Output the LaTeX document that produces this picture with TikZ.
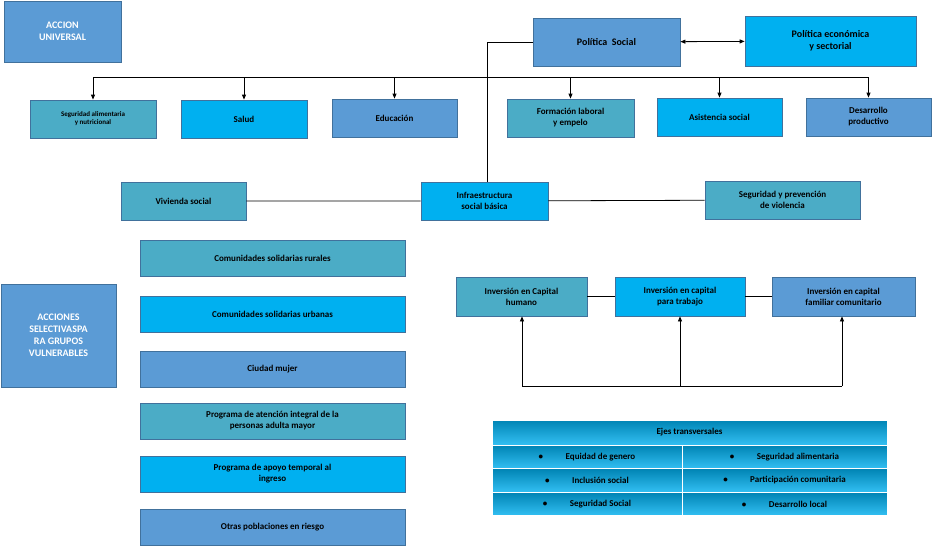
\documentclass[tikz,border=0pt]{standalone}
\usepackage{fontspec}
\setmainfont{Carlito}
\usetikzlibrary{arrows.meta,positioning}
\definecolor{azul}{HTML}{5B9BD5}
\definecolor{turq}{HTML}{4BACC6}
\definecolor{cian}{HTML}{00B0F0}
\definecolor{borde}{HTML}{41719C}
\tikzset{
  caja/.style={draw=borde, line width=0.8pt, font=\bfseries\small, align=center, inner sep=1pt},
  cajaA/.style={caja, fill=azul},
  cajaT/.style={caja, fill=turq},
  cajaC/.style={caja, fill=cian},
  celda/.style={draw=white, line width=0.6pt, top color=cian!75!black, bottom color=cian!80!white, font=\bfseries\small, inner sep=0pt},
  flecha/.style={-{Triangle[length=5pt,width=4pt]}, line width=0.8pt},
  linea/.style={line width=0.8pt}
}
\begin{document}
\begin{tikzpicture}[x=1pt,y=-1pt]
\useasboundingbox (0,0) rectangle (932,547);
% macro-like helper: box from corner coordinates
\newcommand{\caja}[6]{\node[#1, minimum width=#4-#2, minimum height=#5-#3] (#6) at ({(#2+#4)/2},{(#3+#5)/2}) {#6text};}
% acciones
\node[cajaA, text=white, font=\bfseries, minimum width=117, minimum height=61] (accU) at (62.5,31.5) {ACCION\\UNIVERSAL};
\node[cajaA, text=white, font=\bfseries, minimum width=115, minimum height=103] (accS) at (58.5,335.5) {ACCIONES\\SELECTIVASPA\\RA GRUPOS\\VULNERABLES};
% politicas
\node[cajaA, font=\bfseries, minimum width=147, minimum height=48] (polS) at (606.5,42) {Política \ Social};
\node[cajaC, font=\bfseries, minimum width=171, minimum height=50] (polE) at (830.5,41) {Política económica\\y sectorial};
% fila universal
\node[cajaT, font=\bfseries\scriptsize, minimum width=126, minimum height=38] (segA) at (93,119) {Seguridad alimentaria\\y nutricional};
\node[cajaC, minimum width=126, minimum height=38] (salud) at (244,119) {Salud};
\node[cajaA, minimum width=125, minimum height=38] (educ) at (394.5,118) {Educación};
\node[cajaT, minimum width=127, minimum height=38] (form) at (570.5,118) {Formación laboral\\y empelo};
\node[cajaC, minimum width=125, minimum height=38] (asis) at (719.5,117) {Asistencia social};
\node[cajaA, minimum width=125, minimum height=38] (desa) at (868.5,117) {Desarrollo\\productivo};
% fila infraestructura
\node[cajaT, minimum width=125, minimum height=38] (viv) at (183.5,201) {Vivienda social};
\node[cajaC, minimum width=127, minimum height=38] (infra) at (484.5,201) {Infraestructura\\social básica};
\node[cajaT, minimum width=155, minimum height=38] (segP) at (782.5,200) {Seguridad y prevención\\de violencia};
% programas
\node[cajaT, minimum width=265, minimum height=36] (rur) at (272.5,258) {Comunidades solidarias rurales};
\node[cajaC, minimum width=265, minimum height=36] (urb) at (272.5,314.5) {Comunidades solidarias urbanas};
\node[cajaA, minimum width=265, minimum height=36] (mujer) at (272.5,369) {Ciudad mujer};
\node[cajaT, minimum width=265, minimum height=36] (mayor) at (272.5,421) {Programa de atención integral de la\\personas adulta mayor};
\node[cajaC, minimum width=265, minimum height=36] (ingr) at (272.5,474) {Programa de apoyo temporal al\\ingreso};
\node[cajaA, minimum width=265, minimum height=36] (otras) at (272.5,527) {Otras poblaciones en riesgo};
% inversiones
\node[cajaT, minimum width=131, minimum height=39] (invH) at (521.5,296.5) {Inversión en Capital\\humano};
\node[cajaC, minimum width=130, minimum height=39] (invT) at (680,296.5) {Inversión en capital\\para trabajo};
\node[cajaA, minimum width=143, minimum height=39] (invF) at (843.5,296.5) {Inversión en capital\\familiar comunitario};
% conectores
\draw[{Triangle[length=5pt,width=4pt]}-{Triangle[length=5pt,width=4pt]}, linea] (polS) -- (polE);
\coordinate (izq) at (93,77);
\coordinate (der) at (869,77);
\draw[linea] (izq) -- (der);
\foreach \n/\x in {segA/93, salud/244, educ/394.5, form/570.5, asis/719.5, desa/868.5}
  \draw[flecha] (\x,77) -- (\n.north);
\coordinate (codo) at (487,42);
\draw[linea] (polS.west) -- (codo) -- (infra.north -| codo);
\draw[linea] (viv) -- (infra) -- (segP);
\draw[linea] (invH) -- (invT) -- (invF);
\coordinate (baseI) at (522,386);
\coordinate (baseD) at (842,386);
\draw[linea] (baseI) -- (baseD);
\draw[flecha] (baseI) -- (invH.south -| baseI);
\draw[flecha] (680,386) -- (invT.south);
\draw[flecha] (baseD) -- (invF.south -| baseD);
% ejes transversales
\node[celda, minimum width=395, minimum height=25] (ejes) at (689.5,432.5) {Ejes transversales};
\foreach \i/\a/\b in {0/Equidad de genero/Seguridad alimentaria, 1/Inclusión social/Participación comunitaria, 2/Seguridad Social/Desarrollo local} {
  \node[celda, minimum width=190, minimum height=23.5] (ejeA\i) at (587,{457+23.5*\i}) {\textbullet\hspace{2.5em}\a};
  \node[celda, minimum width=205, minimum height=23.5] (ejeB\i) at (784.5,{457+23.5*\i}) {\textbullet\hspace{2.5em}\b};
}
\end{tikzpicture}
\end{document}
